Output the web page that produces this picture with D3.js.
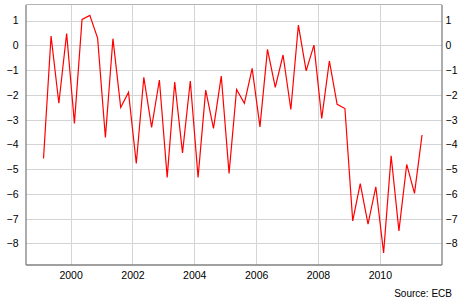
<!DOCTYPE html>
<html>
<head>
<meta charset="utf-8">
<script src="https://cdn.jsdelivr.net/npm/d3@7/dist/d3.min.js"></script>
<style>
  body { margin: 0; background: #fff; }
  svg { display: block; font-family: "Liberation Sans", Arial, sans-serif; }
</style>
</head>
<body>
<svg id="chart" width="466" height="307"></svg>
<script>
// quarterly observations 1999Q1 .. 2011Q2
const quarters = [
  "1999Q1","1999Q2","1999Q3","1999Q4","2000Q1","2000Q2","2000Q3","2000Q4",
  "2001Q1","2001Q2","2001Q3","2001Q4","2002Q1","2002Q2","2002Q3","2002Q4",
  "2003Q1","2003Q2","2003Q3","2003Q4","2004Q1","2004Q2","2004Q3","2004Q4",
  "2005Q1","2005Q2","2005Q3","2005Q4","2006Q1","2006Q2","2006Q3","2006Q4",
  "2007Q1","2007Q2","2007Q3","2007Q4","2008Q1","2008Q2","2008Q3","2008Q4",
  "2009Q1","2009Q2","2009Q3","2009Q4","2010Q1","2010Q2","2010Q3","2010Q4",
  "2011Q1","2011Q2"
];
const values = [
  -4.57, 0.38, -2.34, 0.48, -3.15, 1.05, 1.21, 0.29, -3.72, 0.27,
  -2.51, -1.90, -4.77, -1.29, -3.31, -1.40, -5.33, -1.48, -4.34, -1.44,
  -5.33, -1.81, -3.35, -1.24, -5.17, -1.78, -2.34, -0.93, -3.29, -0.16,
  -1.70, -0.39, -2.59, 0.82, -1.03, 0.01, -2.95, -0.63, -2.38, -2.55,
  -7.09, -5.58, -7.22, -5.71, -8.38, -4.46, -7.49, -4.81, -5.98, -3.62
];
const yTicks = [1, 0, -1, -2, -3, -4, -5, -6, -7, -8];
const yDomain = [-8.85, 1.65];
const sourceText = "Source: ECB";

// quarter -> mid-quarter date
const parseQ = s => {
  const yr = +s.slice(0, 4), q = +s.slice(5);
  return new Date(Date.UTC(yr, (q - 1) * 3 + 1, 15));
};
const data = quarters.map((q, i) => ({ date: parseQ(q), value: values[i] }));

const svg = d3.select('#chart');
const plot = { left: 25.5, right: 441.5, top: 4.5, bottom: 264.5 };

const x = d3.scaleUtc()
  .domain([new Date(Date.UTC(1998, 6, 17)), new Date(Date.UTC(2011, 11, 31))])
  .range([plot.left, plot.right]);
const y = d3.scaleLinear().domain(yDomain).range([plot.bottom, plot.top]);

const xTicks = d3.utcYear.every(2).range(x.domain()[0], x.domain()[1]);

// gridlines
const grid = svg.append('g').attr('class', 'grid')
  .attr('stroke', '#d4d4d4').attr('stroke-width', 1)
  .attr('shape-rendering', 'crispEdges');
grid.selectAll('line.h').data(yTicks).join('line')
  .attr('class', 'h')
  .attr('x1', plot.left).attr('x2', plot.right)
  .attr('y1', d => Math.round(y(d)) + 0.5).attr('y2', d => Math.round(y(d)) + 0.5);
grid.selectAll('line.v').data(xTicks).join('line')
  .attr('class', 'v')
  .attr('x1', d => Math.round(x(d)) + 0.5).attr('x2', d => Math.round(x(d)) + 0.5)
  .attr('y1', plot.top).attr('y2', plot.bottom);

// top border
svg.append('line')
  .attr('x1', plot.left).attr('x2', plot.right).attr('y1', plot.top).attr('y2', plot.top)
  .attr('stroke', '#b4b4b4').attr('shape-rendering', 'crispEdges');

// series
svg.append('path')
  .datum(data)
  .attr('fill', 'none')
  .attr('stroke', '#ff0000')
  .attr('stroke-width', 1.2)
  .attr('stroke-linejoin', 'miter')
  .attr('d', d3.line().x(d => x(d.date)).y(d => y(d.value)));

// axes
const styleAxis = g => {
  g.select('.domain').attr('stroke', '#808080').attr('stroke-width', 1.3);
  g.selectAll('.tick line').remove();
  g.selectAll('text').attr('fill', '#000').style('font-size', '10.5px')
    .style('font-family', '"Liberation Sans", Arial, sans-serif');
};

svg.append('g')
  .attr('transform', `translate(${plot.left},0)`)
  .call(d3.axisLeft(y).tickValues(yTicks).tickSize(0).tickPadding(7).tickSizeOuter(0).tickFormat(d3.format('d')))
  .call(styleAxis);

svg.append('g')
  .attr('transform', `translate(${plot.right},0)`)
  .call(d3.axisRight(y).tickValues(yTicks).tickSize(0).tickPadding(4).tickSizeOuter(0).tickFormat(d3.format('d')))
  .call(styleAxis);

svg.append('g')
  .attr('transform', `translate(0,${plot.bottom})`)
  .call(d3.axisBottom(x).tickValues(xTicks).tickSize(0).tickPadding(7).tickSizeOuter(0).tickFormat(d3.utcFormat('%Y')))
  .call(styleAxis);

// source note
svg.append('text')
  .attr('x', 452).attr('y', 297)
  .attr('text-anchor', 'end')
  .style('font-size', '10px')
  .text(sourceText);
</script>
</body>
</html>
